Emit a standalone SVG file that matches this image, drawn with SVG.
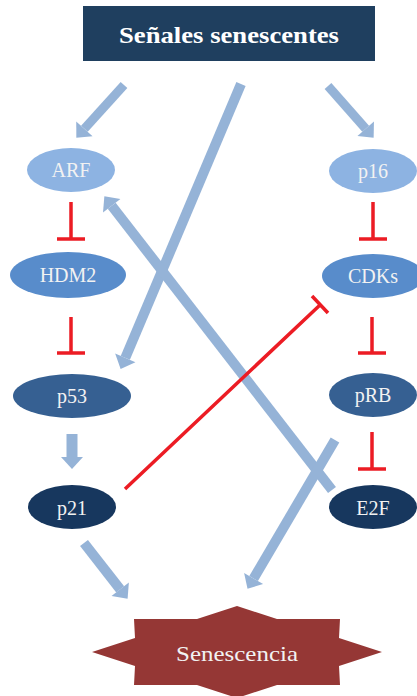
<svg xmlns="http://www.w3.org/2000/svg" width="417" height="696" viewBox="0 0 417 696">
<style>
.t{font-family:"Liberation Serif","DejaVu Serif",serif;fill:#F2F2F2;text-anchor:middle;font-size:20px}
.arr{stroke:#95B3D7;fill:none;stroke-linecap:butt}
.inh{stroke:#EC1C24;fill:none;stroke-width:3.5}
</style>
<defs>
<marker id="ah" markerUnits="userSpaceOnUse" orient="auto" markerWidth="14" markerHeight="24" refX="0" refY="11" viewBox="0 0 14 22" overflow="visible">
<path d="M0,0 L12,11 L0,22 Z" fill="#95B3D7"/>
</marker>
</defs>
<rect width="417" height="696" fill="#FFFFFF"/>
<g id="title">
<rect x="83" y="6" width="292" height="55" fill="#1F3F5F"/>
<text x="229" y="43" class="t" style="font-size:23px;font-weight:bold;fill:#FFFFFF" textLength="220" lengthAdjust="spacingAndGlyphs">Señales senescentes</text>
</g>
<g id="connectors">
<line class="arr" stroke-width="9" x1="124" y1="85" x2="84.4" y2="128.8" marker-end="url(#ah)"/>
<line class="arr" stroke-width="9" x1="328" y1="86" x2="365.7" y2="128.7" marker-end="url(#ah)"/>
<line class="arr" stroke-width="10" x1="241" y1="84" x2="125.3" y2="357.9" marker-end="url(#ah)"/>
<line class="arr" stroke-width="10" x1="332" y1="490" x2="111.7" y2="205.7" marker-end="url(#ah)"/>
<line class="arr" stroke-width="10" x1="335" y1="440" x2="253.6" y2="578.5" marker-end="url(#ah)"/>
<line class="arr" stroke-width="11" x1="72" y1="434" x2="72" y2="457" marker-end="url(#ah)"/>
<line class="arr" stroke-width="10" x1="84" y1="543" x2="120.2" y2="589.3" marker-end="url(#ah)"/>
<path class="inh" d="M71,202 V239 M57,239 H85"/>
<path class="inh" d="M373,202 V239 M359,239 H387"/>
<path class="inh" d="M71,317 V353 M57,353 H85"/>
<path class="inh" d="M372,317 V353 M358,353 H386"/>
<path class="inh" d="M372,432 V469 M358,469 H386"/>
<path class="inh" stroke-width="2.8" d="M125,489 L320,305 M312,296 L328,313"/>
</g>
<g id="ARF"><ellipse cx="71" cy="170" rx="44" ry="22" fill="#8DB3E2"/><text class="t" x="71" y="177">ARF</text></g>
<g id="p16"><ellipse cx="373" cy="171" rx="44" ry="22" fill="#8DB3E2"/><text class="t" x="373" y="178">p16</text></g>
<g id="HDM2"><ellipse cx="68" cy="275" rx="58" ry="23" fill="#588CCB"/><text class="t" x="68" y="282">HDM2</text></g>
<g id="CDKs"><ellipse cx="373" cy="276" rx="51" ry="22" fill="#588CCB"/><text class="t" x="373" y="283">CDKs</text></g>
<g id="p53"><ellipse cx="72" cy="396" rx="59" ry="22" fill="#366092"/><text class="t" x="72" y="403">p53</text></g>
<g id="pRB"><ellipse cx="373" cy="395" rx="44" ry="22" fill="#366092"/><text class="t" x="373" y="402">pRB</text></g>
<g id="p21"><ellipse cx="72" cy="507" rx="44" ry="22" fill="#17375E"/><text class="t" x="72" y="515">p21</text></g>
<g id="E2F"><ellipse cx="373" cy="507" rx="44" ry="22" fill="#17375E"/><text class="t" x="373" y="515">E2F</text></g>
<g id="Senescencia">
<polygon fill="#953735" points="237,606 197,619 134,619 135,638 92,652 135,666 134,685 197,685 237,698 277,685 340,685 339,666 382,652 339,638 340,619 277,619"/>
<text class="t" x="237" y="661" style="font-size:22px" textLength="122" lengthAdjust="spacingAndGlyphs">Senescencia</text>
</g>
</svg>
